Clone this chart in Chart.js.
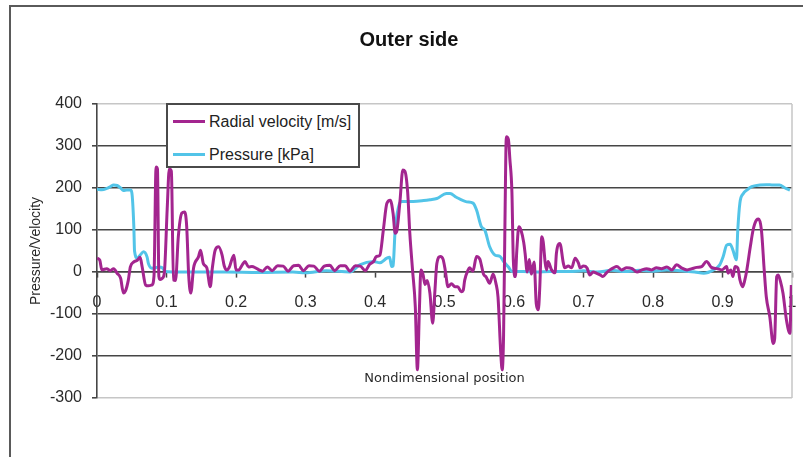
<!DOCTYPE html>
<html>
<head>
<meta charset="utf-8">
<script src="https://cdn.jsdelivr.net/npm/chart.js@4.4.1/dist/chart.umd.min.js"></script>
<style>
  html, body { margin: 0; padding: 0; background: #fff; }
  #wrap { position: relative; width: 803px; height: 457px; }
  #legend {
    position: absolute; left: 166px; top: 103px; width: 190px; height: 61px;
    background: #fff; border: 2px solid #4a4a4a;
    font: 16px "Liberation Sans", Arial, sans-serif; color: #222;
  }
  #legend .row { position: absolute; left: 0; height: 20px; line-height: 20px; white-space: nowrap; }
  #legend .swatch { position: absolute; left: 5px; top: 8px; width: 32px; height: 3px; }
  #legend .label { position: absolute; left: 41px; top: 0; }
</style>
</head>
<body>
<div id="wrap">
  <canvas id="chart" width="803" height="457"></canvas>
  <div id="legend"></div>
</div>
<script>
// radial velocity [m/s] along the outer side
const velocityPos = [
  0.000, 0.004, 0.007, 0.014, 0.019, 0.024, 0.029, 0.034, 0.038, 0.041,
  0.045, 0.048, 0.053, 0.058, 0.062, 0.065, 0.070, 0.074, 0.079, 0.082,
  0.085, 0.087, 0.089, 0.091, 0.094, 0.097, 0.101, 0.104, 0.107, 0.110,
  0.113, 0.117, 0.122, 0.126, 0.129, 0.132, 0.135, 0.139, 0.146, 0.149,
  0.153, 0.158, 0.163, 0.166, 0.170, 0.175, 0.180, 0.183, 0.187, 0.190,
  0.197, 0.200, 0.204, 0.209, 0.213, 0.218, 0.223, 0.228, 0.233, 0.238,
  0.245, 0.252, 0.260, 0.268, 0.275, 0.283, 0.290, 0.297, 0.305, 0.312,
  0.320, 0.327, 0.335, 0.342, 0.350, 0.357, 0.364, 0.372, 0.379, 0.386,
  0.392, 0.398, 0.402, 0.407, 0.412, 0.417, 0.422, 0.426, 0.429, 0.431,
  0.436, 0.440, 0.443, 0.447, 0.450, 0.454, 0.458, 0.461, 0.464, 0.466,
  0.469, 0.472, 0.475, 0.479, 0.483, 0.486, 0.489, 0.494, 0.498, 0.501,
  0.505, 0.510, 0.515, 0.519, 0.524, 0.527, 0.529, 0.534, 0.536, 0.541,
  0.546, 0.551, 0.553, 0.556, 0.560, 0.565, 0.570, 0.574, 0.577, 0.581,
  0.583, 0.585, 0.587, 0.589, 0.592, 0.594, 0.597, 0.599, 0.602, 0.604,
  0.607, 0.610, 0.614, 0.616, 0.619, 0.622, 0.625, 0.629, 0.632, 0.635,
  0.637, 0.640, 0.642, 0.645, 0.647, 0.649, 0.654, 0.659, 0.661, 0.666,
  0.671, 0.673, 0.678, 0.683, 0.688, 0.693, 0.695, 0.700, 0.705, 0.709,
  0.714, 0.719, 0.724, 0.728, 0.733, 0.738, 0.743, 0.748, 0.755, 0.762,
  0.770, 0.777, 0.784, 0.791, 0.798, 0.805, 0.812, 0.820, 0.827, 0.834,
  0.841, 0.849, 0.856, 0.863, 0.870, 0.877, 0.884, 0.892, 0.899, 0.906,
  0.908, 0.912, 0.915, 0.918, 0.922, 0.925, 0.929, 0.932, 0.935, 0.940,
  0.944, 0.949, 0.952, 0.956, 0.960, 0.963, 0.968, 0.973, 0.975, 0.978,
  0.980, 0.983, 0.987, 0.992, 0.997, 0.999
];
const velocityVals = [
  33, 28, 5, 8, 3, 8, -3, -15, -50, -45,
  -20, 12, 24, 28, 35, 12, -31, -33, -31, -10,
  250, 245, -10, -18, -15, 0, 150, 245, 240, -19,
  -20, 84, 140, 143, 110, -10, -50, 10, 36, 52,
  20, 10, -35, 10, 52, 60, 40, 15, 5, 10,
  40, 5, 5, 17, 25, 12, 13, 10, 5, 2,
  12, 3, 15, 14, 2, 15, 16, 3, 15, 14,
  2, 14, 16, 3, 15, 15, 2, 15, 14, 3,
  18, 25, 37, 40, 100, 163, 171, 140, 92, 95,
  170, 243, 240, 190, 95, 5, -83, -233, -83, 5,
  -5, -30, -20, -50, -122, -50, 20, 37, 30, 5,
  -35, -28, -35, -35, -47, -43, -20, 5, 10, 2,
  37, 30, 17, -5, -12, -27, -5, -27, -60, -194,
  -233, -150, 120, 322, 315, 270, 190, 30, -11, 50,
  108, 100, 70, 44, 0, 30, -5, 24, -75, -90,
  -40, 84, 72, 20, 5, 25, 5, -2, 44, 68,
  21, 10, 14, 10, 33, 20, 10, 14, 10, -7,
  0, -3, -7, -11, -2, 5, 10, 13, 5, 10,
  8, 0, 5, 8, 5, 10, 8, 12, 5, 17,
  10, 5, 8, 11, 13, 25, 11, 8, 5, 13,
  -3, 5, -11, 13, 10, -18, -35, -20, 5, 60,
  100, 124, 126, 100, 5, -59, -106, -170, -160, -11,
  -7, -20, -50, -114, -146, -31
];

// pressure [kPa] along the outer side
const pressurePos = [
  0.000, 0.007, 0.014, 0.019, 0.024, 0.029, 0.034, 0.038, 0.043, 0.048,
  0.050, 0.053, 0.054, 0.058, 0.062, 0.067, 0.072, 0.074, 0.079, 0.084,
  0.089, 0.094, 0.098, 0.108, 0.137, 0.185, 0.233, 0.282, 0.300, 0.330,
  0.364, 0.378, 0.398, 0.407, 0.417, 0.421, 0.424, 0.426, 0.429, 0.434,
  0.438, 0.455, 0.470, 0.479, 0.489, 0.503, 0.508, 0.517, 0.532, 0.541,
  0.546, 0.553, 0.558, 0.565, 0.573, 0.580, 0.585, 0.592, 0.597, 0.613,
  0.632, 0.652, 0.680, 0.700, 0.720, 0.740, 0.760, 0.780, 0.800, 0.820,
  0.840, 0.860, 0.873, 0.887, 0.896, 0.901, 0.906, 0.911, 0.915, 0.920,
  0.922, 0.925, 0.930, 0.935, 0.942, 0.954, 0.963, 0.973, 0.982, 0.990,
  0.997
];
const pressureVals = [
  197, 196, 199, 203, 207, 206, 200, 194, 195, 195,
  190, 108, 50, 33, 40, 48, 36, 20, 9, 10,
  12, 10, 1, 0, 0, 0, -1, 0, -2, 3,
  0, 17, 25, 22, 33, 35, 13, 15, 100, 156,
  168, 168, 170, 172, 175, 187, 187, 178, 167, 164,
  148, 108, 100, 60, 40, 37, 25, 12, 1, 1,
  0, 1, 1, 3, 0, 4, 1, 4, 2, 5,
  3, 0, -3, 5, 17, 37, 64, 66, 52, 29,
  100, 164, 187, 195, 203, 207, 208, 207, 207, 200,
  195
];

const seriesNames = ['Radial velocity [m/s]', 'Pressure [kPa]'];
const seriesColors = ['#a3258f', '#52c4e8'];
const chartTitle = 'Outer side';
const xTitle = 'Nondimensional position';
const yTitle = 'Pressure/Velocity';

const FONT = '"Liberation Sans", Arial, sans-serif';
const GRID_DARK = '#464646';
const GRID_LIGHT = '#c6c6c6';

function toPoints(xs, ys) {
  return xs.map((x, i) => ({ x, y: ys[i] }));
}

// white page with the dark frame on the left and top
const frame = {
  id: 'frame',
  beforeDraw(chart) {
    const { ctx, width, height } = chart;
    ctx.save();
    ctx.fillStyle = '#fff';
    ctx.fillRect(0, 0, width, height);
    ctx.strokeStyle = '#5a5a5a';
    ctx.lineWidth = 2;
    ctx.beginPath();
    ctx.moveTo(10, height);
    ctx.lineTo(10, 6);
    ctx.lineTo(width, 6);
    ctx.stroke();
    ctx.restore();
  },
  beforeDatasetsDraw(chart) {
    const { ctx, chartArea } = chart;
    ctx.save();
    ctx.strokeStyle = GRID_LIGHT;
    ctx.lineWidth = 1.5;
    ctx.beginPath();
    ctx.moveTo(chartArea.right, chartArea.top);
    ctx.lineTo(chartArea.right, chartArea.bottom);
    ctx.stroke();
    ctx.restore();
  }
};

// legend box inside the plot, built from the datasets
const boxLegend = {
  id: 'boxLegend',
  afterUpdate(chart) {
    const el = document.getElementById('legend');
    el.innerHTML = '';
    chart.data.datasets.forEach((ds, i) => {
      const row = document.createElement('div');
      row.className = 'row';
      row.style.top = (7 + i * 33) + 'px';
      const sw = document.createElement('span');
      sw.className = 'swatch';
      sw.style.background = ds.borderColor;
      const lb = document.createElement('span');
      lb.className = 'label';
      lb.textContent = ds.label;
      row.appendChild(sw);
      row.appendChild(lb);
      el.appendChild(row);
    });
  }
};

Chart.defaults.font.family = FONT;
Chart.defaults.color = '#2a2a2a';

new Chart(document.getElementById('chart'), {
  type: 'line',
  data: {
    datasets: [
      {
        label: seriesNames[0],
        data: toPoints(velocityPos, velocityVals),
        borderColor: seriesColors[0],
        borderWidth: 3,
        pointRadius: 0,
        cubicInterpolationMode: 'monotone',
      },
      {
        label: seriesNames[1],
        data: toPoints(pressurePos, pressureVals),
        borderColor: seriesColors[1],
        borderWidth: 3,
        pointRadius: 0,
        cubicInterpolationMode: 'monotone',
      },
    ],
  },
  options: {
    responsive: false,
    animation: false,
    layout: { padding: { left: 26, right: 11, top: 0, bottom: 59 } },
    plugins: {
      legend: { display: false },
      tooltip: { enabled: false },
      title: {
        display: true,
        text: chartTitle,
        color: '#111',
        font: { size: 20, weight: 'bold', family: FONT },
        padding: { top: 28, bottom: 52 },
      },
    },
    scales: {
      x: {
        type: 'linear',
        position: { y: 0 },
        min: 0,
        max: 1,
        // the end labels may hang over the plot edge
        afterFit(scale) { scale.paddingLeft = 0; scale.paddingRight = 0; },
        grid: { display: true, drawOnChartArea: false, drawTicks: true, tickLength: 5, tickColor: GRID_DARK, tickWidth: 1.5 },
        border: { display: true, color: GRID_DARK, width: 1.6 },
        ticks: {
          stepSize: 0.1,
          padding: 16,
          maxRotation: 0,
          font: { size: 16 },
          callback: v => String(Math.round(v * 10) / 10),
        },
        title: {
          display: true,
          text: xTitle,
          font: { size: 13, family: '"DejaVu Sans", Verdana, sans-serif' },
          padding: { top: 43, bottom: 0 },
        },
      },
      y: {
        min: -300,
        max: 400,
        afterFit(scale) { scale.width = 71; },
        grid: {
          color: ctx => (ctx.tick && (ctx.tick.value === 400 || ctx.tick.value === -300)) ? GRID_LIGHT : GRID_DARK,
          lineWidth: 1.6,
          tickLength: 5,
          tickColor: GRID_DARK,
        },
        border: { display: true, color: GRID_DARK, width: 1.6 },
        ticks: { stepSize: 100, padding: 10, font: { size: 16 } },
        title: {
          display: true,
          text: yTitle,
          font: { size: 14 },
          padding: { top: 1.6, bottom: 0 },
        },
      },
    },
  },
  plugins: [frame, boxLegend],
});
</script>
</body>
</html>
